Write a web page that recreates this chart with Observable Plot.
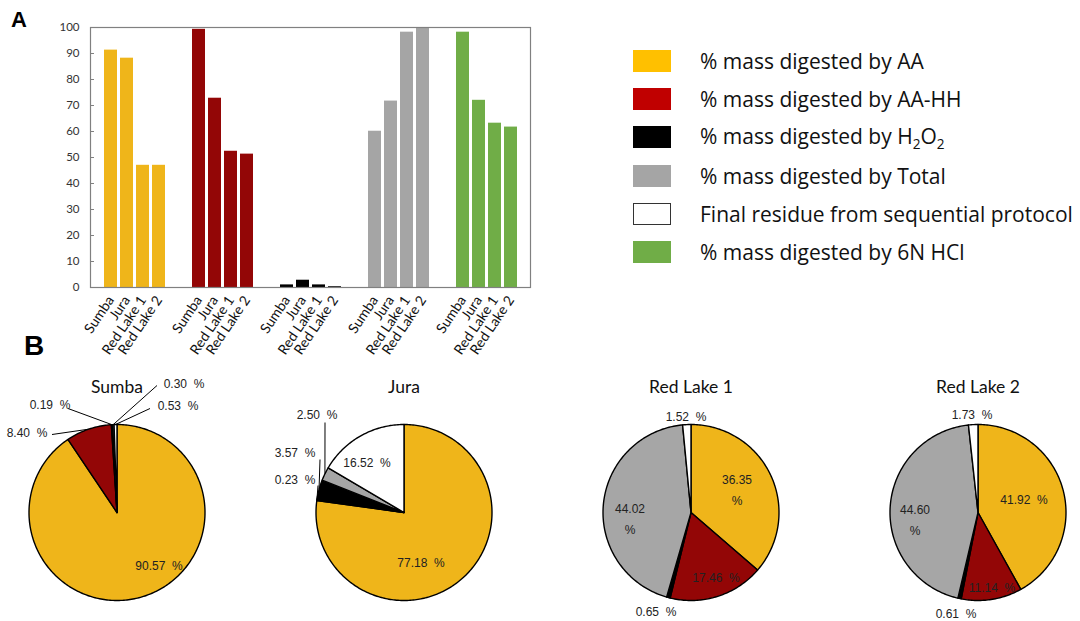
<!DOCTYPE html>
<html><head><meta charset="utf-8">
<script src="https://cdn.jsdelivr.net/npm/d3@7"></script>
<script src="https://cdn.jsdelivr.net/npm/@observablehq/plot@0.6"></script>
<style>
html,body{margin:0;padding:0;background:#fff;}
#root{position:relative;width:1080px;height:621px;overflow:hidden;font-family:Lato,sans-serif;}
.panel{position:absolute;font-family:"Liberation Sans",Arial,sans-serif;font-weight:bold;line-height:1;color:#000;}
#bars{position:absolute;left:0;top:0;width:540px;}
#pies{position:absolute;left:-27px;top:360px;width:1148px;}
#root svg{max-width:none !important;}
#legend{position:absolute;left:633px;top:42px;}
.row{display:flex;align-items:center;height:38.2px;}
.sw{width:38px;height:22px;box-sizing:border-box;margin-right:29px;}
.lt{font-family:"Open Sans",sans-serif;font-size:21px;color:#111;white-space:nowrap;}
</style></head><body><div id="root">
<div class="panel" style="left:11px;top:9px;font-size:22px;">A</div>
<div class="panel" style="left:24px;top:332px;font-size:28px;">B</div>
<div id="bars"></div>
<div id="legend"></div>
<div id="pies"></div>
</div>
<script>
// ---------- data ----------
const samples = ["Sumba", "Jura", "Red Lake 1", "Red Lake 2"];
const barGroups = ["AA", "AA-HH", "H2O2", "Total", "6N HCl"];
const barAA = [91.3, 88.2, 47.0, 47.0];
const barAAHH = [99.3, 72.8, 52.4, 51.3];
const barH2O2 = [1.0, 2.8, 1.0, 0.3];
const barTotal = [60.1, 71.7, 98.2, 99.7];
const barHCl = [98.2, 72.0, 63.2, 61.7];
const yTicks = [0, 10, 20, 30, 40, 50, 60, 70, 80, 90, 100];

const legendLabels = ["% mass digested by AA", "% mass digested by AA-HH", "% mass digested by H<sub style=\"font-size:0.65em\">2</sub>O<sub style=\"font-size:0.65em\">2</sub>", "% mass digested by Total", "Final residue from sequential protocol", "% mass digested by 6N HCl"];

const pieCats = ["AA", "AA-HH", "H2O2", "Total", "Residue"];
const pieSumba = [90.57, 8.40, 0.19, 0.30, 0.53];
const pieJura = [77.18, 0.23, 3.57, 2.50, 16.52];
const pieRL1 = [36.35, 17.46, 0.65, 44.02, 1.52];
const pieRL2 = [41.92, 11.14, 0.61, 44.60, 1.73];

// ---------- styles / layout ----------
const barColors = ["#EFB51A", "#930606", "#000000", "#A5A5A5", "#70AD47"];
const legendColors = ["#FFC000", "#C00000", "#000000", "#A5A5A5", "#FFFFFF", "#70AD47"];
const pieColors = ["#EFB51A", "#930606", "#000000", "#A6A6A6", "#FFFFFF"];
const R = 88; // px per pie radius unit
// label offsets from pie centre in px [dx, dy, lines]
const labelLayout = [
  [[42, 51, 1], [-90, -82, 1], [-67, -110, 1], [67, -131, 1], [61, -109, 1]],
  [[17, 48, 1], [-109, -35, 1], [-109, -62, 1], [-87, -100, 1], [-37, -52, 1]],
  [[46, -24.5, 2], [25, 63, 1], [-35, 97, 1], [-61, 4.5, 2], [-5, -98, 1]],
  [[46, -15, 1], [14, 73, 1], [-22, 99, 1], [-63, 5, 2], [-6, -100, 1]]
];
// leader tails (px from centre) for small outside labels: [sampleIndex, catIndex, dx, dy]
const leaderLayout = [
  [0, 1, -65, -78], [0, 2, -49, -104], [0, 3, 40, -127], [0, 4, 33, -104],
  [1, 1, -86, -27], [1, 2, -84, -53], [1, 3, -79, -90]
];

// ---------- bar chart ----------
const barSeries = [barAA, barAAHH, barH2O2, barTotal, barHCl];
const barData = barGroups.flatMap((g, gi) => samples.map((s, si) => ({group: g, sample: s, value: barSeries[gi][si]})));

const bars = Plot.plot({
  width: 540, height: 360,
  marginLeft: 90, marginRight: 10, marginTop: 27, marginBottom: 73,
  style: {fontFamily: "Lato, sans-serif", fontSize: "11px", color: "#333", background: "transparent"},
  fx: {domain: barGroups, padding: 0, axis: null},
  x: {domain: samples, paddingInner: 0.1875, paddingOuter: 0.84375},
  y: {domain: [0, 100]},
  color: {domain: barGroups, range: barColors},
  marks: [
    Plot.barY(barData, {fx: "group", x: "sample", y: "value", fill: "group"}),
    Plot.frame({facet: "super", stroke: "#808080", strokeWidth: 1.2}),
    Plot.axisY({ticks: yTicks, tickSize: -4, tickPadding: 15, label: null, fontSize: 11.5, stroke: "#808080"}),
    Plot.axisX({tickRotate: -56, tickSize: 0, tickPadding: 10, label: null, fontSize: 14, fill: "#111"})
  ]
});
document.getElementById("bars").appendChild(bars);

// ---------- legend ----------
const legend = document.getElementById("legend");
legendLabels.forEach((t, i) => {
  const row = document.createElement("div");
  row.className = "row";
  const sw = document.createElement("div");
  sw.className = "sw";
  sw.style.background = legendColors[i];
  if (legendColors[i] === "#FFFFFF") sw.style.border = "1.5px solid #333";
  const lt = document.createElement("div");
  lt.className = "lt";
  lt.innerHTML = t;
  row.appendChild(sw); row.appendChild(lt);
  legend.appendChild(row);
});

// ---------- pies ----------
const pieSeries = [pieSumba, pieJura, pieRL1, pieRL2];
const slicePts = [];
const labels = [];
const midAngle = {};
samples.forEach((s, si) => {
  const vals = pieSeries[si];
  const tot = d3.sum(vals);
  let cum = 0;
  vals.forEach((v, ci) => {
    const a0 = cum / tot * 2 * Math.PI;
    cum += v;
    const a1 = cum / tot * 2 * Math.PI;
    midAngle[si + "|" + ci] = (a0 + a1) / 2;
    const n = Math.max(2, Math.ceil((a1 - a0) / (Math.PI / 180)));
    const key = s + "|" + pieCats[ci];
    slicePts.push({sample: s, cat: pieCats[ci], key, x: 0, y: 0});
    for (let k = 0; k <= n; k++) {
      const a = a0 + (a1 - a0) * k / n;
      slicePts.push({sample: s, cat: pieCats[ci], key, x: Math.sin(a), y: Math.cos(a)});
    }
    slicePts.push({sample: s, cat: pieCats[ci], key, x: 0, y: 0});
    const [dx, dy, lines] = labelLayout[si][ci];
    labels.push({sample: s, x: dx / R, y: -dy / R,
      text: lines === 2 ? v.toFixed(2) + "\n%" : v.toFixed(2) + "\u00a0\u00a0%"});
  });
});
const leaders = leaderLayout.map(([si, ci, dx, dy]) => {
  const a = midAngle[si + "|" + ci];
  return {sample: samples[si], x1: dx / R, y1: -dy / R, x2: Math.sin(a), y2: Math.cos(a)};
});

const pw = 287, ph = 261, cy = 152;
const pies = Plot.plot({
  width: pw * 4, height: ph,
  marginLeft: 0, marginRight: 0, marginTop: 0, marginBottom: 0,
  style: {background: "transparent"},
  fx: {domain: samples, padding: 0, axis: null},
  x: {domain: [-pw / 2 / R, pw / 2 / R], axis: null},
  y: {domain: [-(ph - cy) / R, cy / R], axis: null},
  color: {domain: pieCats, range: pieColors},
  marks: [
    Plot.line(slicePts, {fx: "sample", x: "x", y: "y", z: "key", fill: "cat", stroke: "#000", strokeWidth: 1.4, strokeLinejoin: "round"}),
    Plot.link(leaders, {fx: "sample", x1: "x1", y1: "y1", x2: "x2", y2: "y2", stroke: "#000", strokeWidth: 1}),
    Plot.text(labels, {fx: "sample", x: "x", y: "y", text: "text", fontSize: 12, fontFamily: "Liberation Sans, Arial, sans-serif", fill: "#222", lineHeight: 1.75}),
    Plot.text(samples, {fx: d => d, frameAnchor: "top", dy: 20, text: d => d, fontSize: 17.5, fontFamily: "Lato, sans-serif", fill: "#111"})
  ]
});
document.getElementById("pies").appendChild(pies);
</script>
</body></html>
